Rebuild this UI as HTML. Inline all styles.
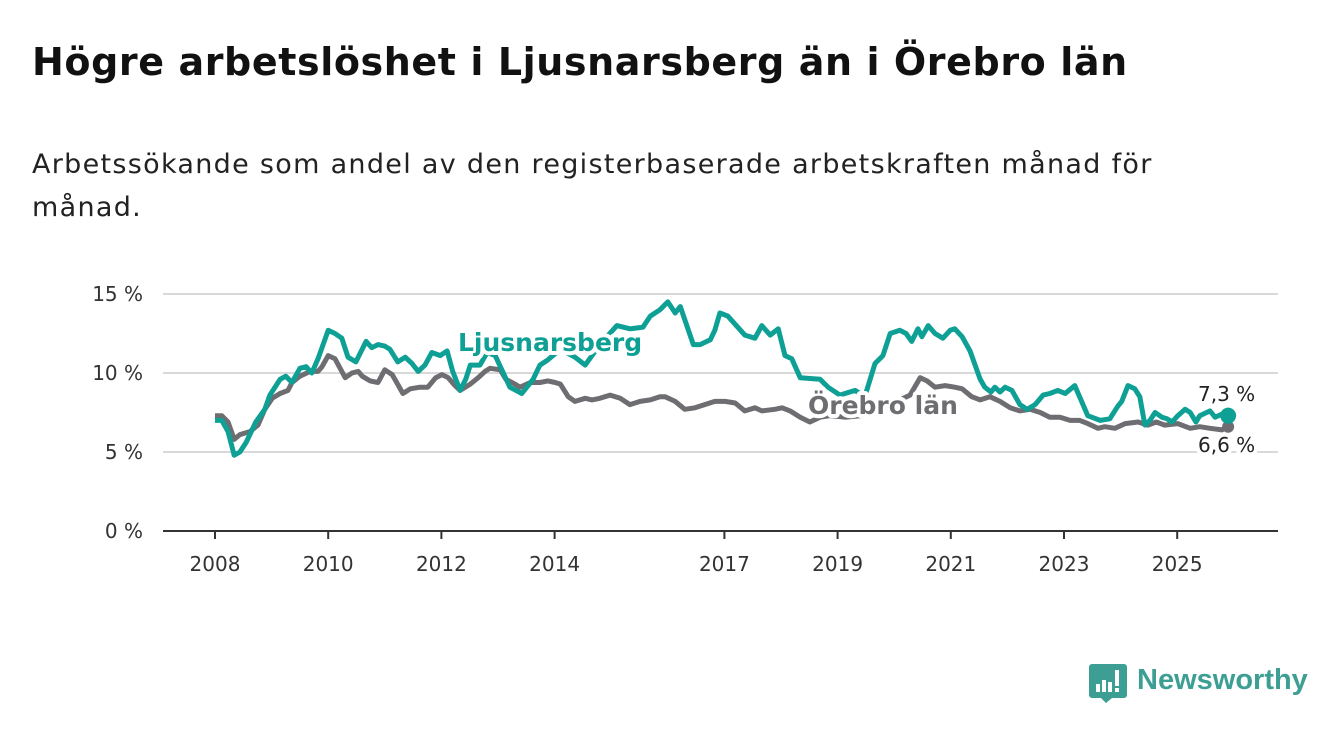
<!DOCTYPE html>
<html><head><meta charset="utf-8"><style>
body{margin:0;background:#fff;width:1340px;height:734px;overflow:hidden;font-family:"DejaVu Sans","Liberation Sans",sans-serif;}
#title{position:absolute;left:32px;top:40px;font-size:38px;font-weight:bold;color:#111;margin:0;letter-spacing:0.6px}
#sub{position:absolute;left:32px;top:143px;width:1185px;font-size:27px;line-height:43px;color:#222;margin:0;letter-spacing:1.3px}
svg{position:absolute;left:0;top:0}
</style></head><body>
<h1 id="title">Högre arbetslöshet i Ljusnarsberg än i Örebro län</h1>
<p id="sub">Arbetssökande som andel av den registerbaserade arbetskraften månad för månad.</p>
<svg id="chart" width="1340" height="734"></svg>
<script>
const yTicks=[0,5,10,15];
const yTickLabels=["0 %","5 %","10 %","15 %"];
const xTicks=[2008,2010,2012,2014,2017,2019,2021,2023,2025];
const ljDates=[2008.00,2008.12,2008.23,2008.34,2008.44,2008.55,2008.72,2008.88,2008.97,2009.15,2009.25,2009.36,2009.50,2009.61,2009.71,2009.82,2009.89,2010.00,2010.12,2010.24,2010.35,2010.49,2010.67,2010.77,2010.88,2011.00,2011.09,2011.23,2011.36,2011.48,2011.59,2011.71,2011.83,2011.98,2012.10,2012.20,2012.33,2012.43,2012.51,2012.68,2012.81,2012.95,2013.21,2013.42,2013.62,2013.74,2013.87,2014.10,2014.36,2014.54,2014.80,2015.10,2015.33,2015.56,2015.69,2015.86,2016.00,2016.13,2016.22,2016.45,2016.57,2016.75,2016.83,2016.92,2017.06,2017.36,2017.54,2017.66,2017.81,2017.95,2018.07,2018.19,2018.34,2018.69,2018.83,2019.04,2019.13,2019.31,2019.48,2019.66,2019.80,2019.93,2020.10,2020.21,2020.31,2020.42,2020.49,2020.60,2020.72,2020.86,2020.99,2021.07,2021.20,2021.34,2021.52,2021.60,2021.71,2021.78,2021.87,2021.96,2022.08,2022.22,2022.35,2022.49,2022.63,2022.75,2022.89,2023.02,2023.19,2023.42,2023.64,2023.81,2023.95,2024.02,2024.13,2024.25,2024.34,2024.43,2024.52,2024.61,2024.73,2024.82,2024.91,2025.01,2025.14,2025.23,2025.33,2025.40,2025.58,2025.67,2025.79,2025.90];
const ljValues=[7.0,7.0,6.3,4.8,5.0,5.6,6.9,7.7,8.6,9.6,9.8,9.4,10.3,10.4,10.0,10.9,11.6,12.7,12.5,12.2,11.0,10.7,12.0,11.6,11.8,11.7,11.5,10.7,11.0,10.6,10.1,10.5,11.3,11.1,11.4,10.1,8.9,9.6,10.5,10.5,11.3,11.1,9.1,8.7,9.6,10.5,10.8,11.5,11.0,10.5,11.8,13.0,12.8,12.9,13.6,14.0,14.5,13.8,14.2,11.8,11.8,12.1,12.7,13.8,13.6,12.4,12.2,13.0,12.4,12.8,11.1,10.9,9.7,9.6,9.1,8.6,8.7,8.9,8.5,10.6,11.1,12.5,12.7,12.5,12.0,12.8,12.3,13.0,12.5,12.2,12.7,12.8,12.3,11.4,9.6,9.1,8.8,9.1,8.8,9.1,8.9,8.0,7.7,8.0,8.6,8.7,8.9,8.7,9.2,7.3,7.0,7.1,7.9,8.2,9.2,9.0,8.5,6.7,7.0,7.5,7.2,7.1,6.9,7.3,7.7,7.5,6.9,7.3,7.6,7.2,7.4,7.3];
const orDates=[2008.00,2008.12,2008.23,2008.34,2008.44,2008.62,2008.76,2008.88,2009.01,2009.15,2009.29,2009.36,2009.50,2009.68,2009.82,2009.89,2010.00,2010.12,2010.30,2010.42,2010.53,2010.60,2010.74,2010.88,2011.00,2011.13,2011.32,2011.45,2011.62,2011.76,2011.90,2012.01,2012.12,2012.24,2012.33,2012.42,2012.51,2012.65,2012.77,2012.86,2013.04,2013.14,2013.30,2013.39,2013.57,2013.74,2013.88,2014.01,2014.10,2014.24,2014.36,2014.54,2014.66,2014.80,2014.98,2015.16,2015.33,2015.51,2015.69,2015.86,2015.95,2016.13,2016.30,2016.48,2016.83,2017.01,2017.19,2017.36,2017.54,2017.66,2017.89,2018.02,2018.16,2018.34,2018.51,2018.69,2018.87,2019.13,2019.40,2019.57,2019.75,2019.93,2020.10,2020.28,2020.46,2020.58,2020.72,2020.90,2021.07,2021.20,2021.37,2021.52,2021.69,2021.87,2022.05,2022.22,2022.40,2022.58,2022.75,2022.93,2023.11,2023.28,2023.42,2023.60,2023.72,2023.90,2024.08,2024.31,2024.48,2024.63,2024.78,2025.01,2025.23,2025.40,2025.58,2025.79,2025.90];
const orValues=[7.3,7.3,6.9,5.8,6.1,6.3,6.7,7.7,8.4,8.7,8.9,9.4,9.8,10.1,10.1,10.4,11.1,10.9,9.7,10.0,10.1,9.8,9.5,9.4,10.2,9.9,8.7,9.0,9.1,9.1,9.7,9.9,9.7,9.2,8.9,9.1,9.3,9.7,10.1,10.3,10.2,9.6,9.3,9.1,9.4,9.4,9.5,9.4,9.3,8.5,8.2,8.4,8.3,8.4,8.6,8.4,8.0,8.2,8.3,8.5,8.5,8.2,7.7,7.8,8.2,8.2,8.1,7.6,7.8,7.6,7.7,7.8,7.6,7.2,6.9,7.2,7.3,7.2,7.3,7.7,7.8,7.9,8.3,8.6,9.7,9.5,9.1,9.2,9.1,9.0,8.5,8.3,8.5,8.2,7.8,7.6,7.7,7.5,7.2,7.2,7.0,7.0,6.8,6.5,6.6,6.5,6.8,6.9,6.7,6.9,6.7,6.8,6.5,6.6,6.5,6.4,6.6];

const svg=document.getElementById('chart');
const NS='http://www.w3.org/2000/svg';
const FF='DejaVu Sans, Liberation Sans, sans-serif';
const X=y=>215+(y-2008)*56.6;
const Y=v=>531-v*15.8;
function mk(t,a,p){const e=document.createElementNS(NS,t);for(const k in a)e.setAttribute(k,a[k]);(p||svg).appendChild(e);return e;}
yTicks.forEach((t,i)=>{
  if(t>0){const g=mk('line',{x1:163,x2:1278,y1:Y(t),y2:Y(t),stroke:'#d9d9d9','stroke-width':2});
  
  }
  const l=mk('text',{x:143,y:Y(t)+7,'text-anchor':'end','font-size':20,fill:'#333','font-family':FF});
  l.textContent=yTickLabels[i];
  
  
});
const ax=mk('line',{x1:163,x2:1278,y1:531,y2:531,stroke:'#333','stroke-width':2});


xTicks.forEach(t=>{
  const tk=mk('line',{x1:X(t),x2:X(t),y1:531,y2:539,stroke:'#333','stroke-width':2});
  
  
  const l=mk('text',{x:X(t),y:571,'text-anchor':'middle','font-size':20,fill:'#333','font-family':FF});
  l.textContent=t;
  
  
});
function path(d,v){return d.map((x,i)=>(i?'L':'M')+X(x).toFixed(1)+','+Y(v[i]).toFixed(1)).join('');}
const po=mk('path',{d:path(orDates,orValues),fill:'none',stroke:'#6e6d72','stroke-width':5,'stroke-linejoin':'round'});


const pl=mk('path',{d:path(ljDates,ljValues),fill:'none',stroke:'#0ea095','stroke-width':5,'stroke-linejoin':'round'});


const lo=orDates.length-1, ll=ljDates.length-1;
const d1=mk('circle',{cx:X(orDates[lo]),cy:Y(orValues[lo]),r:6,fill:'#6e6d72'});


const d2=mk('circle',{cx:X(ljDates[ll]),cy:Y(ljValues[ll]),r:8,fill:'#0ea095'});


function lab(txt,x,y,fill,size,weight,name){
  const t=mk('text',{x:x,y:y,fill:fill,'font-size':size,'font-weight':weight,stroke:'#fff','stroke-width':8,'paint-order':'stroke','stroke-linejoin':'round','font-family':FF});
  t.textContent=txt;
  
  
}
lab('Ljusnarsberg',458,351,'#0ea095',25,'bold','ljusnarsberg-label');
lab('Örebro län',808,414,'#6e6d72',25,'bold','orebro-label');
lab('7,3 %',1198,401,'#222',20,'normal','ljusnarsberg-end-value');
lab('6,6 %',1198,452,'#222',20,'normal','orebro-end-value');
</script>
<svg width="1340" height="734">
<path d="M1092 664h32a3 3 0 0 1 3 3v28a3 3 0 0 1-3 3h-12l-6 5-5-5h-9a3 3 0 0 1-3-3v-28a3 3 0 0 1 3-3z" fill="#3d9e94"/>
<rect x="1096" y="684" width="4" height="8" fill="#fff"/><rect x="1102" y="680" width="4" height="12" fill="#fff"/><rect x="1108" y="682" width="4" height="10" fill="#fff"/><rect x="1115" y="670" width="4" height="16" fill="#fff"/><rect x="1115" y="688" width="4" height="4" fill="#fff"/>
<text x="1137" y="689" font-size="29" font-weight="bold" fill="#3d9e94" font-family="Liberation Sans, sans-serif">Newsworthy</text>
</svg>
</body></html>
